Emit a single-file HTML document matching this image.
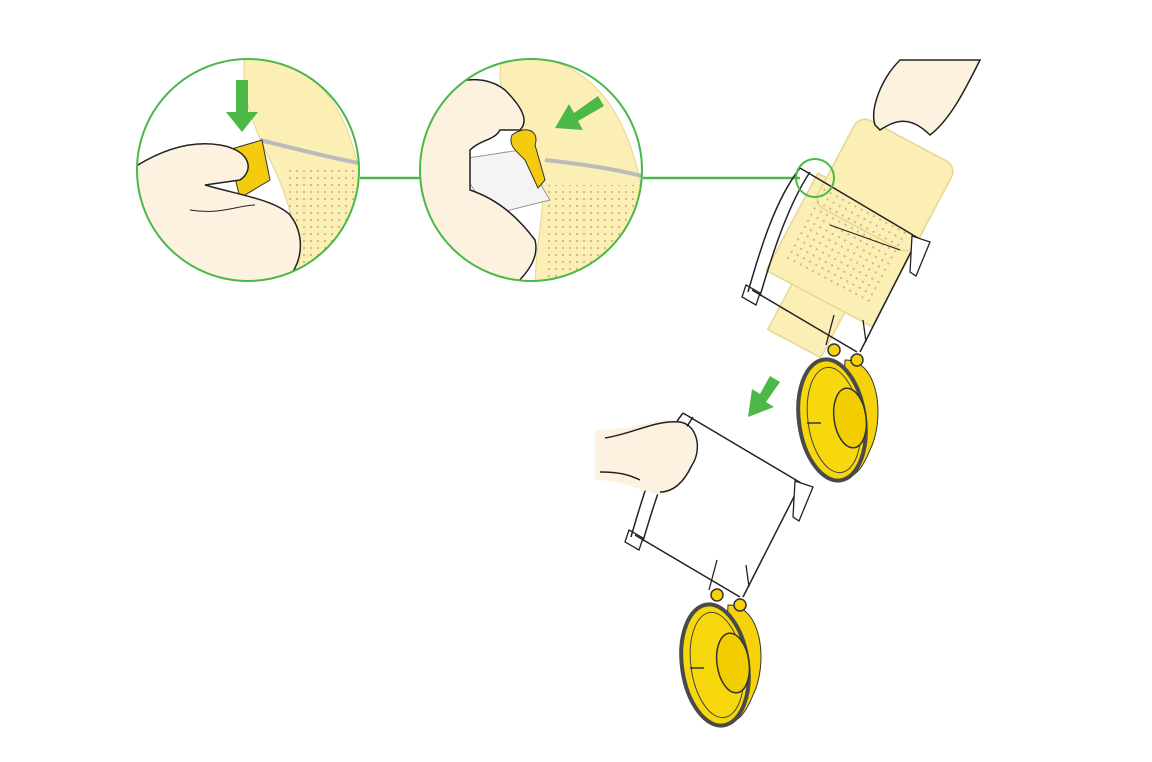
<!DOCTYPE html>
<html><head><meta charset="utf-8"><style>html,body{margin:0;background:#fff}svg{display:block}</style></head>
<body>
<svg width="1152" height="762" viewBox="0 0 1152 762" xmlns="http://www.w3.org/2000/svg">
<defs>
<pattern id="dots" width="7" height="7" patternUnits="userSpaceOnUse"><circle cx="3" cy="3" r="1.1" fill="#c9b880"/></pattern>
<clipPath id="c1"><circle cx="248" cy="170" r="111"/></clipPath>
<clipPath id="c2"><circle cx="531" cy="170" r="111"/></clipPath>
<g id="binlid">
  <path d="M800,168 L918,238 M918,238 L860,352 M752,290 L857,352 M800,168 C775,200 760,250 748,292 M810,172 C788,205 772,255 760,296" stroke="#222" stroke-width="1.5" fill="none"/>
  <path d="M746,285 l14,8 l-4,12 l-14,-8z" fill="none" stroke="#222" stroke-width="1.3"/>
  <path d="M912,236 l18,6 l-14,34 l-6,-4z" fill="#fff" stroke="#222" stroke-width="1.3"/>
  <path d="M826,345 l8,-30 M866,342 l-3,-22" stroke="#222" stroke-width="1.3"/>
  <path d="M845,360 C880,360 885,420 870,450 C860,475 850,480 840,475z" fill="#f5d20a" stroke="#333" stroke-width="1"/>
  <ellipse cx="832" cy="420" rx="33" ry="61" transform="rotate(-8 832 420)" fill="#f7d80d" stroke="#4a4a4a" stroke-width="4"/>
  <ellipse cx="834" cy="420" rx="26" ry="53" transform="rotate(-8 834 420)" fill="none" stroke="#444" stroke-width="1"/>
  <ellipse cx="850" cy="418" rx="16" ry="30" transform="rotate(-8 850 418)" fill="#f2cd00" stroke="#333" stroke-width="1.5"/>
  <path d="M807,423 h14" stroke="#333" stroke-width="1.5"/>
  <circle cx="834" cy="350" r="6" fill="#f5d20a" stroke="#333" stroke-width="1.5"/>
  <circle cx="857" cy="360" r="6" fill="#f5d20a" stroke="#333" stroke-width="1.5"/>
</g>
</defs>
<!-- connecting line -->
<path d="M360,178 H420 M643,178 H800" stroke="#4cb848" stroke-width="2.5"/>

<!-- circle 1 -->
<g clip-path="url(#c1)">
  <rect x="130" y="50" width="240" height="240" fill="#fff"/>
  <path d="M245,55 C300,60 370,80 370,290 H300 C300,240 290,200 270,160 C250,120 240,90 245,55z" fill="#fcefb6" stroke="#e5d690"/>
  <rect x="285" y="170" width="80" height="110" fill="url(#dots)"/>
  <path d="M260,140 C300,150 340,160 370,165" stroke="#bbb" stroke-width="4" fill="none"/>
  <path d="M228,150 L262,140 L270,180 L240,198z" fill="#f5cb10" stroke="#333"/>
  <path d="M130,170 C160,150 190,140 220,145 C250,150 255,170 240,180 L205,185 C240,195 275,200 290,215 C310,240 300,280 270,290 L130,290z" fill="#fdf2e0" stroke="#222" stroke-width="1.5"/>
  <path d="M190,210 C220,215 240,205 255,205" stroke="#222" fill="none"/>
</g>
<circle cx="248" cy="170" r="111" fill="none" stroke="#4cb848" stroke-width="2"/>
<path d="M236,80 h12 v32 h10 l-16,20 l-16,-20 h10z" fill="#4cb848"/>

<!-- circle 2 -->
<g clip-path="url(#c2)">
  <rect x="415" y="50" width="240" height="240" fill="#fff"/>
  <path d="M505,55 C560,55 650,70 650,290 H535 C535,220 560,180 520,130 C500,100 495,70 505,55z" fill="#fcefb6" stroke="#e5d690"/>
  <rect x="545" y="185" width="100" height="100" fill="url(#dots)"/>
  <path d="M545,160 C590,165 620,170 650,178" stroke="#bbb" stroke-width="4" fill="none"/>
  <path d="M455,160 L520,150 L550,200 L490,215z" fill="#f4f4f4" stroke="#999"/>
  <path d="M512,135 C525,125 540,130 535,145 L545,180 L538,188 L525,160 C515,150 508,145 512,135z" fill="#f5cb10" stroke="#333"/>
  <path d="M415,110 C440,80 480,70 505,90 C520,105 530,120 520,130 L500,130 C495,140 480,140 470,150 L470,190 C500,200 520,220 535,240 C540,260 525,275 510,290 L415,290z" fill="#fdf2e0" stroke="#222" stroke-width="1.5"/>
</g>
<circle cx="531" cy="170" r="111" fill="none" stroke="#4cb848" stroke-width="2"/>
<path d="M598,96 l6,10 l-26,15 l5,9 l-28,-2 l14,-24 l5,9z" fill="#4cb848"/>

<!-- vacuum body -->
<g fill="#fcefb6" stroke="#e5d690" stroke-width="1.5">
  <rect x="790" y="240" width="60" height="110" transform="rotate(28 820 295)"/>
  <rect x="785" y="195" width="120" height="110" transform="rotate(28 845 250)"/>
  <rect x="830" y="135" width="110" height="100" rx="12" transform="rotate(28 885 185)"/>
</g>
<rect x="795" y="205" width="100" height="80" transform="rotate(28 845 245)" fill="url(#dots)"/>
<path d="M900,60 C880,80 870,110 875,125 L880,130 C895,120 910,115 930,135 C950,120 965,90 980,60z" fill="#fdf2e0" stroke="#222" stroke-width="1.5"/>
<use href="#binlid"/>
<path d="M830,225 L900,250" stroke="#222"/>
<circle cx="815" cy="178" r="19" fill="none" stroke="#4cb848" stroke-width="2"/>

<path d="M770,376 l10,6 l-14,20 l8,5 l-26,10 l4,-28 l8,5z" fill="#4cb848"/>

<g transform="translate(-117,245)"><use href="#binlid"/></g>
<path d="M595,430 C630,430 650,420 670,420 C690,420 700,440 695,455 C690,470 680,490 660,495 C640,490 620,480 595,480z" fill="#fdf2e0" stroke="none"/>
<path d="M605,438 C635,433 655,420 680,422 C698,425 702,450 692,465 C685,480 675,492 660,492 M640,480 C630,475 620,472 600,472" fill="none" stroke="#222" stroke-width="1.5"/>
</svg>
</body></html>
